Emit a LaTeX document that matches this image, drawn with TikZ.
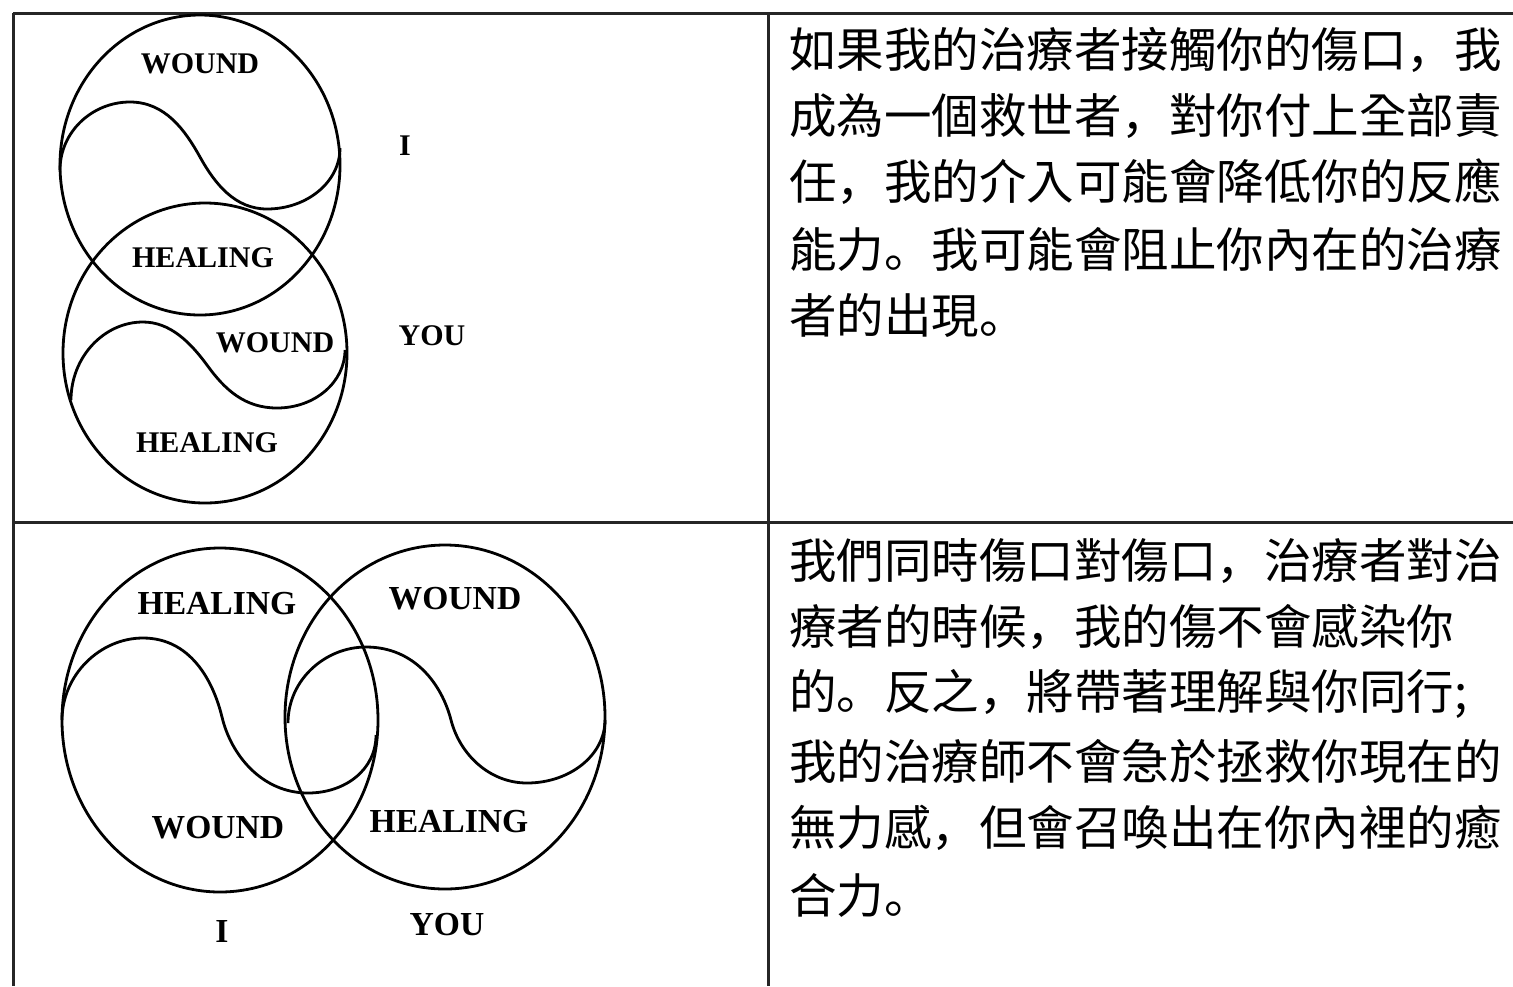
\documentclass[tikz,border=0pt]{standalone}
\usepackage{fontspec}
\setmainfont{Liberation Serif}
\newfontfamily\cjk{Noto Sans CJK TC}
\newfontfamily\cjkp{Noto Sans CJK SC}
\newcommand\zcm{{\cjkp ，}}
\newcommand\zpd{{\cjkp 。}}
\begin{document}
\begin{tikzpicture}[x=0.5pt,y=-0.5pt,
  lbl/.style={font=\bfseries\fontsize{15}{18}\selectfont, inner sep=0pt},
  lblb/.style={font=\bfseries\fontsize{16.8}{20}\selectfont, inner sep=0pt},
  zh/.style={font=\cjk\fontsize{23.75}{28}\selectfont, anchor=west, inner sep=0pt},
  rule/.style={line width=1.5pt, draw=black!85},
  ring/.style={line width=1.4pt},
  wave/.style={line width=1.4pt}]
\useasboundingbox (0,0) rectangle (1513,986);
% table rules
\draw[rule] (13,13) -- (1513,13);
\draw[rule] (13,522) -- (1513,522);
\draw[rule] (13,13) -- (13,986);
\draw[rule] (768,13) -- (768,986);

% ---------- top diagram ----------
\draw[ring] (200,165) ellipse [x radius=140, y radius=150];
\draw[ring] (205,353) ellipse [x radius=142, y radius=150];
\draw[wave] (60,170) .. controls (60,132) and (92,102) .. (130,102)
  .. controls (165,102) and (185,130) .. (200,157)
  .. controls (215,184) and (235,209) .. (267,209)
  .. controls (307,209) and (340,182) .. (340,148);
\draw[wave] (71,400) .. controls (71,357) and (104,322) .. (143,322)
  .. controls (170,322) and (190,342) .. (207,365)
  .. controls (225,390) and (245,408) .. (277,408)
  .. controls (315,408) and (345,382) .. (345,350);
\node[lbl] (tw1) at (200,64) {WOUND};
\node[lbl] (ti) at (405,146) {I};
\node[lbl] (th1) at (203,258) {HEALING};
\node[lbl] (tw2) at (275,343) {WOUND};
\node[lbl] (tyou) at (432,336) {YOU};
\node[lbl] (th2) at (207,443) {HEALING};

% ---------- bottom diagram ----------
\draw[ring] (220,720) ellipse [x radius=158, y radius=172];
\draw[ring] (445,717) ellipse [x radius=160, y radius=172];
\draw[wave] (62,720) .. controls (62,675) and (100,638) .. (143,638)
  .. controls (190,638) and (213,680) .. (222,717)
  .. controls (231,755) and (262,793) .. (308,793)
  .. controls (345,793) and (376,770) .. (376,735);
\draw[wave] (288,723) .. controls (288,680) and (325,647) .. (366,647)
  .. controls (415,647) and (442,685) .. (451,720)
  .. controls (460,755) and (490,783) .. (527,783)
  .. controls (570,783) and (605,755) .. (605,720);
\node[lblb] (bh1) at (217,604) {HEALING};
\node[lblb] (bw1) at (455,599) {WOUND};
\node[lblb] (bw2) at (218,828) {WOUND};
\node[lblb] (bh2) at (449,822) {HEALING};
\node[lblb] (bi) at (222,931) {I};
\node[lblb] (byou) at (447,925) {YOU};

% ---------- text, top ----------
\node[zh] (a1) at (789,50) {如果我的治療者接觸你的傷口\zcm 我};
\node[zh] (a2) at (789,116) {成為一個救世者\zcm 對你付上全部責};
\node[zh] (a3) at (789,182) {任\zcm 我的介入可能會降低你的反應};
\node[zh] (a4) at (789,249) {能力\zpd 我可能會阻止你內在的治療};
\node[zh] (a5) at (789,315) {者的出現\zpd};

% ---------- text, bottom ----------
\node[zh] (b1) at (789,561) {我們同時傷口對傷口\zcm 治療者對治};
\node[zh] (b2) at (789,627) {療者的時候\zcm 我的傷不會感染你};
\node[zh] (b3) at (789,694) {的\zpd 反之\zcm 將帶著理解與你同行;};
\node[zh] (b4) at (789,761) {我的治療師不會急於拯救你現在的};
\node[zh] (b5) at (789,828) {無力感\zcm 但會召喚出在你內裡的癒};
\node[zh] (b6) at (789,895) {合力\zpd};
\end{tikzpicture}
\end{document}
